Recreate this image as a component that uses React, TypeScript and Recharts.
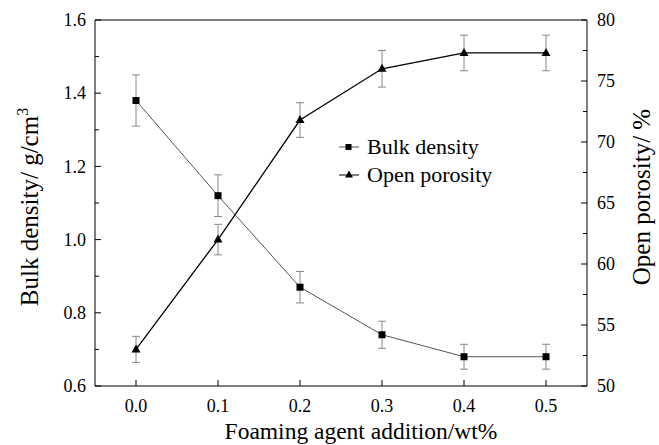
import React from 'react';
import { ComposedChart, Line, XAxis, YAxis, ErrorBar, ReferenceLine, Legend } from 'recharts';

const xValues = [0, 0.1, 0.2, 0.3, 0.4, 0.5];
const bulkDensity = [1.38, 1.12, 0.87, 0.74, 0.68, 0.68];
const bulkDensityErr = [0.07, 0.057, 0.043, 0.037, 0.034, 0.034];
const openPorosity = [53.0, 62.0, 71.8, 76.0, 77.3, 77.3];
const openPorosityErr = [1.07, 1.25, 1.42, 1.5, 1.46, 1.46];

const xTicks = [0, 0.1, 0.2, 0.3, 0.4, 0.5];
const leftMajor = [0.6, 0.8, 1.0, 1.2, 1.4, 1.6];
const leftMinor = [0.7, 0.9, 1.1, 1.3, 1.5];
const rightMajor = [50, 55, 60, 65, 70, 75, 80];
const rightMinor = [52.5, 57.5, 62.5, 67.5, 72.5, 77.5];

const seriesNames = ['Bulk density', 'Open porosity'];
const xLabel = 'Foaming agent addition/wt%';
const leftLabel = 'Bulk density/ g/cm';
const rightLabel = 'Open porosity/ %';

const data = xValues.map((x, i) => ({
  x,
  bd: bulkDensity[i],
  bdErr: bulkDensityErr[i],
  op: openPorosity[i],
  opErr: openPorosityErr[i],
}));

const FONT = '"Liberation Serif", "Times New Roman", serif';

function AxisTick(props: any) {
  const { x, y, payload, side, majors, fmt } = props;
  const v = payload.value;
  const isMajor = majors.some((m: number) => Math.abs(m - v) < 1e-9);
  const len = isMajor ? 6 : 4;
  const ts = { fontFamily: FONT, fontSize: 18 };
  if (side === 'left') {
    return (
      <g>
        <line x1={x} y1={y} x2={x + len} y2={y} stroke="#000" strokeWidth={1} />
        {isMajor && (
          <text x={x - 9} y={y} dy="0.34em" textAnchor="end" style={ts} fill="#000">
            {fmt(v)}
          </text>
        )}
      </g>
    );
  }
  if (side === 'right') {
    return (
      <g>
        <line x1={x} y1={y} x2={x - len} y2={y} stroke="#000" strokeWidth={1} />
        {isMajor && (
          <text x={x + 10} y={y} dy="0.34em" textAnchor="start" style={ts} fill="#000">
            {fmt(v)}
          </text>
        )}
      </g>
    );
  }
  return (
    <g>
      <line x1={x} y1={y} x2={x} y2={y - len} stroke="#000" strokeWidth={1} />
      {isMajor && (
        <text x={x} y={y + 26} textAnchor="middle" style={ts} fill="#000">
          {fmt(v)}
        </text>
      )}
    </g>
  );
}

const SquareDot = (props: any) => {
  const { cx, cy, index } = props;
  if (cx == null || cy == null) return <g key={`s${index}`} />;
  return <rect key={`s${index}`} x={cx - 3.5} y={cy - 3.5} width={7} height={7} fill="#000" />;
};

const TriangleDot = (props: any) => {
  const { cx, cy, index } = props;
  if (cx == null || cy == null) return <g key={`t${index}`} />;
  return (
    <polygon
      key={`t${index}`}
      points={`${cx},${cy - 5} ${cx - 4.5},${cy + 3} ${cx + 4.5},${cy + 3}`}
      fill="#000"
    />
  );
};

const LegendContent = () => (
  <div style={{ fontFamily: FONT, fontSize: 22, color: '#000', lineHeight: '28px' }}>
    {seriesNames.map((name, i) => (
      <div key={name} style={{ display: 'flex', alignItems: 'center', height: 28 }}>
        <svg width={28} height={16} style={{ marginRight: 3 }}>
          <line x1={3} y1={8} x2={23} y2={8} stroke={i === 0 ? '#555' : '#000'} strokeWidth={1} />
          {i === 0 ? (
            <rect x={9.5} y={5} width={6} height={6} fill="#000" />
          ) : (
            <polygon points="13,3.5 9,10.5 17,10.5" fill="#000" />
          )}
        </svg>
        <span>{name}</span>
      </div>
    ))}
  </div>
);

const LeftLabel = (props: any) => {
  const vb = props.viewBox;
  const cx = vb.x + 37.5;
  const cy = vb.y + vb.height / 2 + 4;
  return (
    <text
      x={cx}
      y={cy}
      transform={`rotate(-90, ${cx}, ${cy})`}
      textAnchor="middle"
      style={{ fontFamily: FONT, fontSize: 25 }}
      fill="#000"
    >
      {leftLabel}
      <tspan dy={-10} fontSize={16}>3</tspan>
    </text>
  );
};

const RightLabel = (props: any) => {
  const vb = props.viewBox;
  const cx = vb.x + 63;
  const cy = vb.y + vb.height / 2 - 6;
  return (
    <text
      x={cx}
      y={cy}
      transform={`rotate(-90, ${cx}, ${cy})`}
      textAnchor="middle"
      style={{ fontFamily: FONT, fontSize: 25 }}
      fill="#000"
    >
      {rightLabel}
    </text>
  );
};

const BottomLabel = (props: any) => {
  const vb = props.viewBox;
  const cx = vb.x + vb.width / 2 + 20;
  const cy = vb.y + 53;
  return (
    <text x={cx} y={cy} textAnchor="middle" style={{ fontFamily: FONT, fontSize: 23.5 }} fill="#000">
      {xLabel}
    </text>
  );
};

export default function App() {
  return (
    <div style={{ position: 'absolute', left: 0, top: 0, width: 659, height: 445, background: '#fff' }}>
      <ComposedChart width={659} height={445} data={data} margin={{ top: 20, right: 0, left: 0, bottom: 0 }}>
        <XAxis
          dataKey="x"
          type="number"
          domain={[-0.05, 0.55]}
          allowDataOverflow
          ticks={xTicks}
          interval={0}
          height={59}
          tickSize={0}
          tickMargin={0}
          axisLine={{ stroke: '#000', strokeWidth: 1 }}
          tickLine={false}
          tick={(p: any) => <AxisTick {...p} side="bottom" majors={xTicks} fmt={(v: number) => v.toFixed(1)} />}
          label={{ content: BottomLabel }}
        />
        <YAxis
          yAxisId="left"
          orientation="left"
          type="number"
          domain={[0.6, 1.6]}
          allowDataOverflow
          ticks={[...leftMajor, ...leftMinor].sort((a, b) => a - b)}
          interval={0}
          width={95}
          tickSize={0}
          tickMargin={0}
          axisLine={{ stroke: '#000', strokeWidth: 1 }}
          tickLine={false}
          tick={(p: any) => <AxisTick {...p} side="left" majors={leftMajor} fmt={(v: number) => v.toFixed(1)} />}
          label={{ content: LeftLabel }}
        />
        <YAxis
          yAxisId="right"
          orientation="right"
          type="number"
          domain={[50, 80]}
          allowDataOverflow
          ticks={[...rightMajor, ...rightMinor].sort((a, b) => a - b)}
          interval={0}
          width={72}
          tickSize={0}
          tickMargin={0}
          axisLine={{ stroke: '#000', strokeWidth: 1 }}
          tickLine={false}
          tick={(p: any) => <AxisTick {...p} side="right" majors={rightMajor} fmt={(v: number) => String(v)} />}
          label={{ content: RightLabel }}
        />
        <ReferenceLine yAxisId="left" y={1.6} stroke="#000" strokeWidth={1} />
        <Legend
          layout="vertical"
          align="center"
          verticalAlign="middle"
          content={LegendContent}
          wrapperStyle={{ left: 336, top: 133, width: 'auto' }}
        />
        <Line
          yAxisId="left"
          dataKey="bd"
          name={seriesNames[0]}
          stroke="#555"
          strokeWidth={1}
          dot={SquareDot}
          activeDot={false}
          isAnimationActive={false}
        >
          <ErrorBar dataKey="bdErr" width={4} stroke="#888" strokeWidth={1} isAnimationActive={false} />
        </Line>
        <Line
          yAxisId="right"
          dataKey="op"
          name={seriesNames[1]}
          stroke="#000"
          strokeWidth={1.3}
          dot={TriangleDot}
          activeDot={false}
          isAnimationActive={false}
        >
          <ErrorBar dataKey="opErr" width={4} stroke="#888" strokeWidth={1} isAnimationActive={false} />
        </Line>
      </ComposedChart>
    </div>
  );
}
